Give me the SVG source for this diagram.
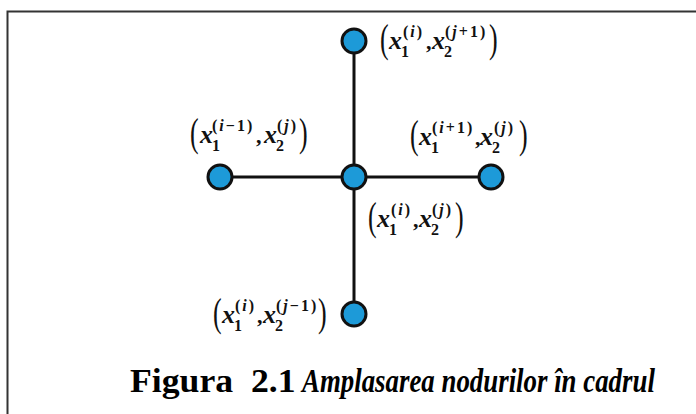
<svg xmlns="http://www.w3.org/2000/svg" width="696" height="414" viewBox="0 0 696 414">
<style>
.node{fill:#1d9ad8;stroke:#111;stroke-width:3}
.edge{stroke:#111;stroke-width:3;fill:none}
.frame{stroke:#333;stroke-width:2;fill:none}
.m{font-family:"Liberation Serif","Times New Roman",serif;fill:#111}
.x{font-size:26px;font-weight:bold;font-style:italic}
.s{font-size:16px;font-weight:bold}
.sp{letter-spacing:2px}
.p{font-size:26px}
.c{font-size:22px;font-weight:bold}
.cap{font-family:"Liberation Serif","Times New Roman",serif;font-size:34px;font-weight:bold;fill:#000}
</style>
<rect width="696" height="414" fill="#fff"/>
<path class="frame" d="M7.5 414 V11.5 H696"/>
<g id="connectors">
<line class="edge" x1="354" y1="41" x2="354" y2="314"/>
<line class="edge" x1="220" y1="177" x2="491" y2="177"/>
</g>
<g id="node-top"><circle class="node" cx="354" cy="41" r="12"/>
<g class="m" transform="translate(380,49)">
<text class="p" transform="translate(0,3) scale(1,1.5)">(</text>
<text><tspan class="x" x="9" y="0">x</tspan><tspan class="s" x="21" y="8">1</tspan><tspan class="s sp" x="23" y="-12">(<tspan font-style="italic">i</tspan>)</tspan><tspan class="c" x="46" y="0">,</tspan><tspan class="x" x="52" y="0">x</tspan><tspan class="s" x="64" y="8">2</tspan><tspan class="s sp" x="65" y="-12">(<tspan font-style="italic">j</tspan>+1)</tspan></text>
<text class="p" transform="translate(109,3) scale(1,1.5)">)</text>
</g></g>
<g id="node-left"><circle class="node" cx="220" cy="177" r="12"/>
<g class="m" transform="translate(190,143)">
<text class="p" transform="translate(0,3) scale(1,1.5)">(</text>
<text><tspan class="x" x="10" y="0">x</tspan><tspan class="s" x="22" y="8">1</tspan><tspan class="s sp" x="22" y="-12">(<tspan font-style="italic">i</tspan>−1)</tspan><tspan class="c" x="66" y="0">,</tspan><tspan class="x" x="74" y="0">x</tspan><tspan class="s" x="86" y="8">2</tspan><tspan class="s sp" x="87" y="-12">(<tspan font-style="italic">j</tspan>)</tspan></text>
<text class="p" transform="translate(109,3) scale(1,1.5)">)</text>
</g></g>
<g id="node-right"><circle class="node" cx="491" cy="177" r="12"/>
<g class="m" transform="translate(410,145)">
<text class="p" transform="translate(0,3) scale(1,1.5)">(</text>
<text><tspan class="x" x="9" y="0">x</tspan><tspan class="s" x="21" y="8">1</tspan><tspan class="s sp" x="22" y="-12">(<tspan font-style="italic">i</tspan>+1)</tspan><tspan class="c" x="65" y="0">,</tspan><tspan class="x" x="70" y="0">x</tspan><tspan class="s" x="82" y="8">2</tspan><tspan class="s sp" x="84" y="-12">(<tspan font-style="italic">j</tspan>)</tspan></text>
<text class="p" transform="translate(109,3) scale(1,1.5)">)</text>
</g></g>
<g id="node-center"><circle class="node" cx="354" cy="177" r="12"/>
<g class="m" transform="translate(368,227)">
<text class="p" transform="translate(0,3) scale(1,1.5)">(</text>
<text><tspan class="x" x="9" y="0">x</tspan><tspan class="s" x="21" y="8">1</tspan><tspan class="s sp" x="23" y="-12">(<tspan font-style="italic">i</tspan>)</tspan><tspan class="c" x="45" y="0">,</tspan><tspan class="x" x="51" y="0">x</tspan><tspan class="s" x="63" y="8">2</tspan><tspan class="s sp" x="64" y="-12">(<tspan font-style="italic">j</tspan>)</tspan></text>
<text class="p" transform="translate(87,3) scale(1,1.5)">)</text>
</g></g>
<g id="node-bottom"><circle class="node" cx="354" cy="314" r="12"/>
<g class="m" transform="translate(213,323)">
<text class="p" transform="translate(0,3) scale(1,1.5)">(</text>
<text><tspan class="x" x="9" y="0">x</tspan><tspan class="s" x="21" y="8">1</tspan><tspan class="s sp" x="22" y="-12">(<tspan font-style="italic">i</tspan>)</tspan><tspan class="c" x="44" y="0">,</tspan><tspan class="x" x="50" y="0">x</tspan><tspan class="s" x="62" y="8">2</tspan><tspan class="s sp" x="63" y="-12">(<tspan font-style="italic">j</tspan>−1)</tspan></text>
<text class="p" transform="translate(105,3) scale(1,1.5)">)</text>
</g></g>
<g id="caption">
<text class="cap" transform="translate(130,392) scale(1.05,1)">Figura&#160; 2.1</text>
<text class="cap" transform="translate(302,392) scale(0.79,1)" font-style="italic">Amplasarea nodurilor în cadrul</text>
</g>
</svg>
